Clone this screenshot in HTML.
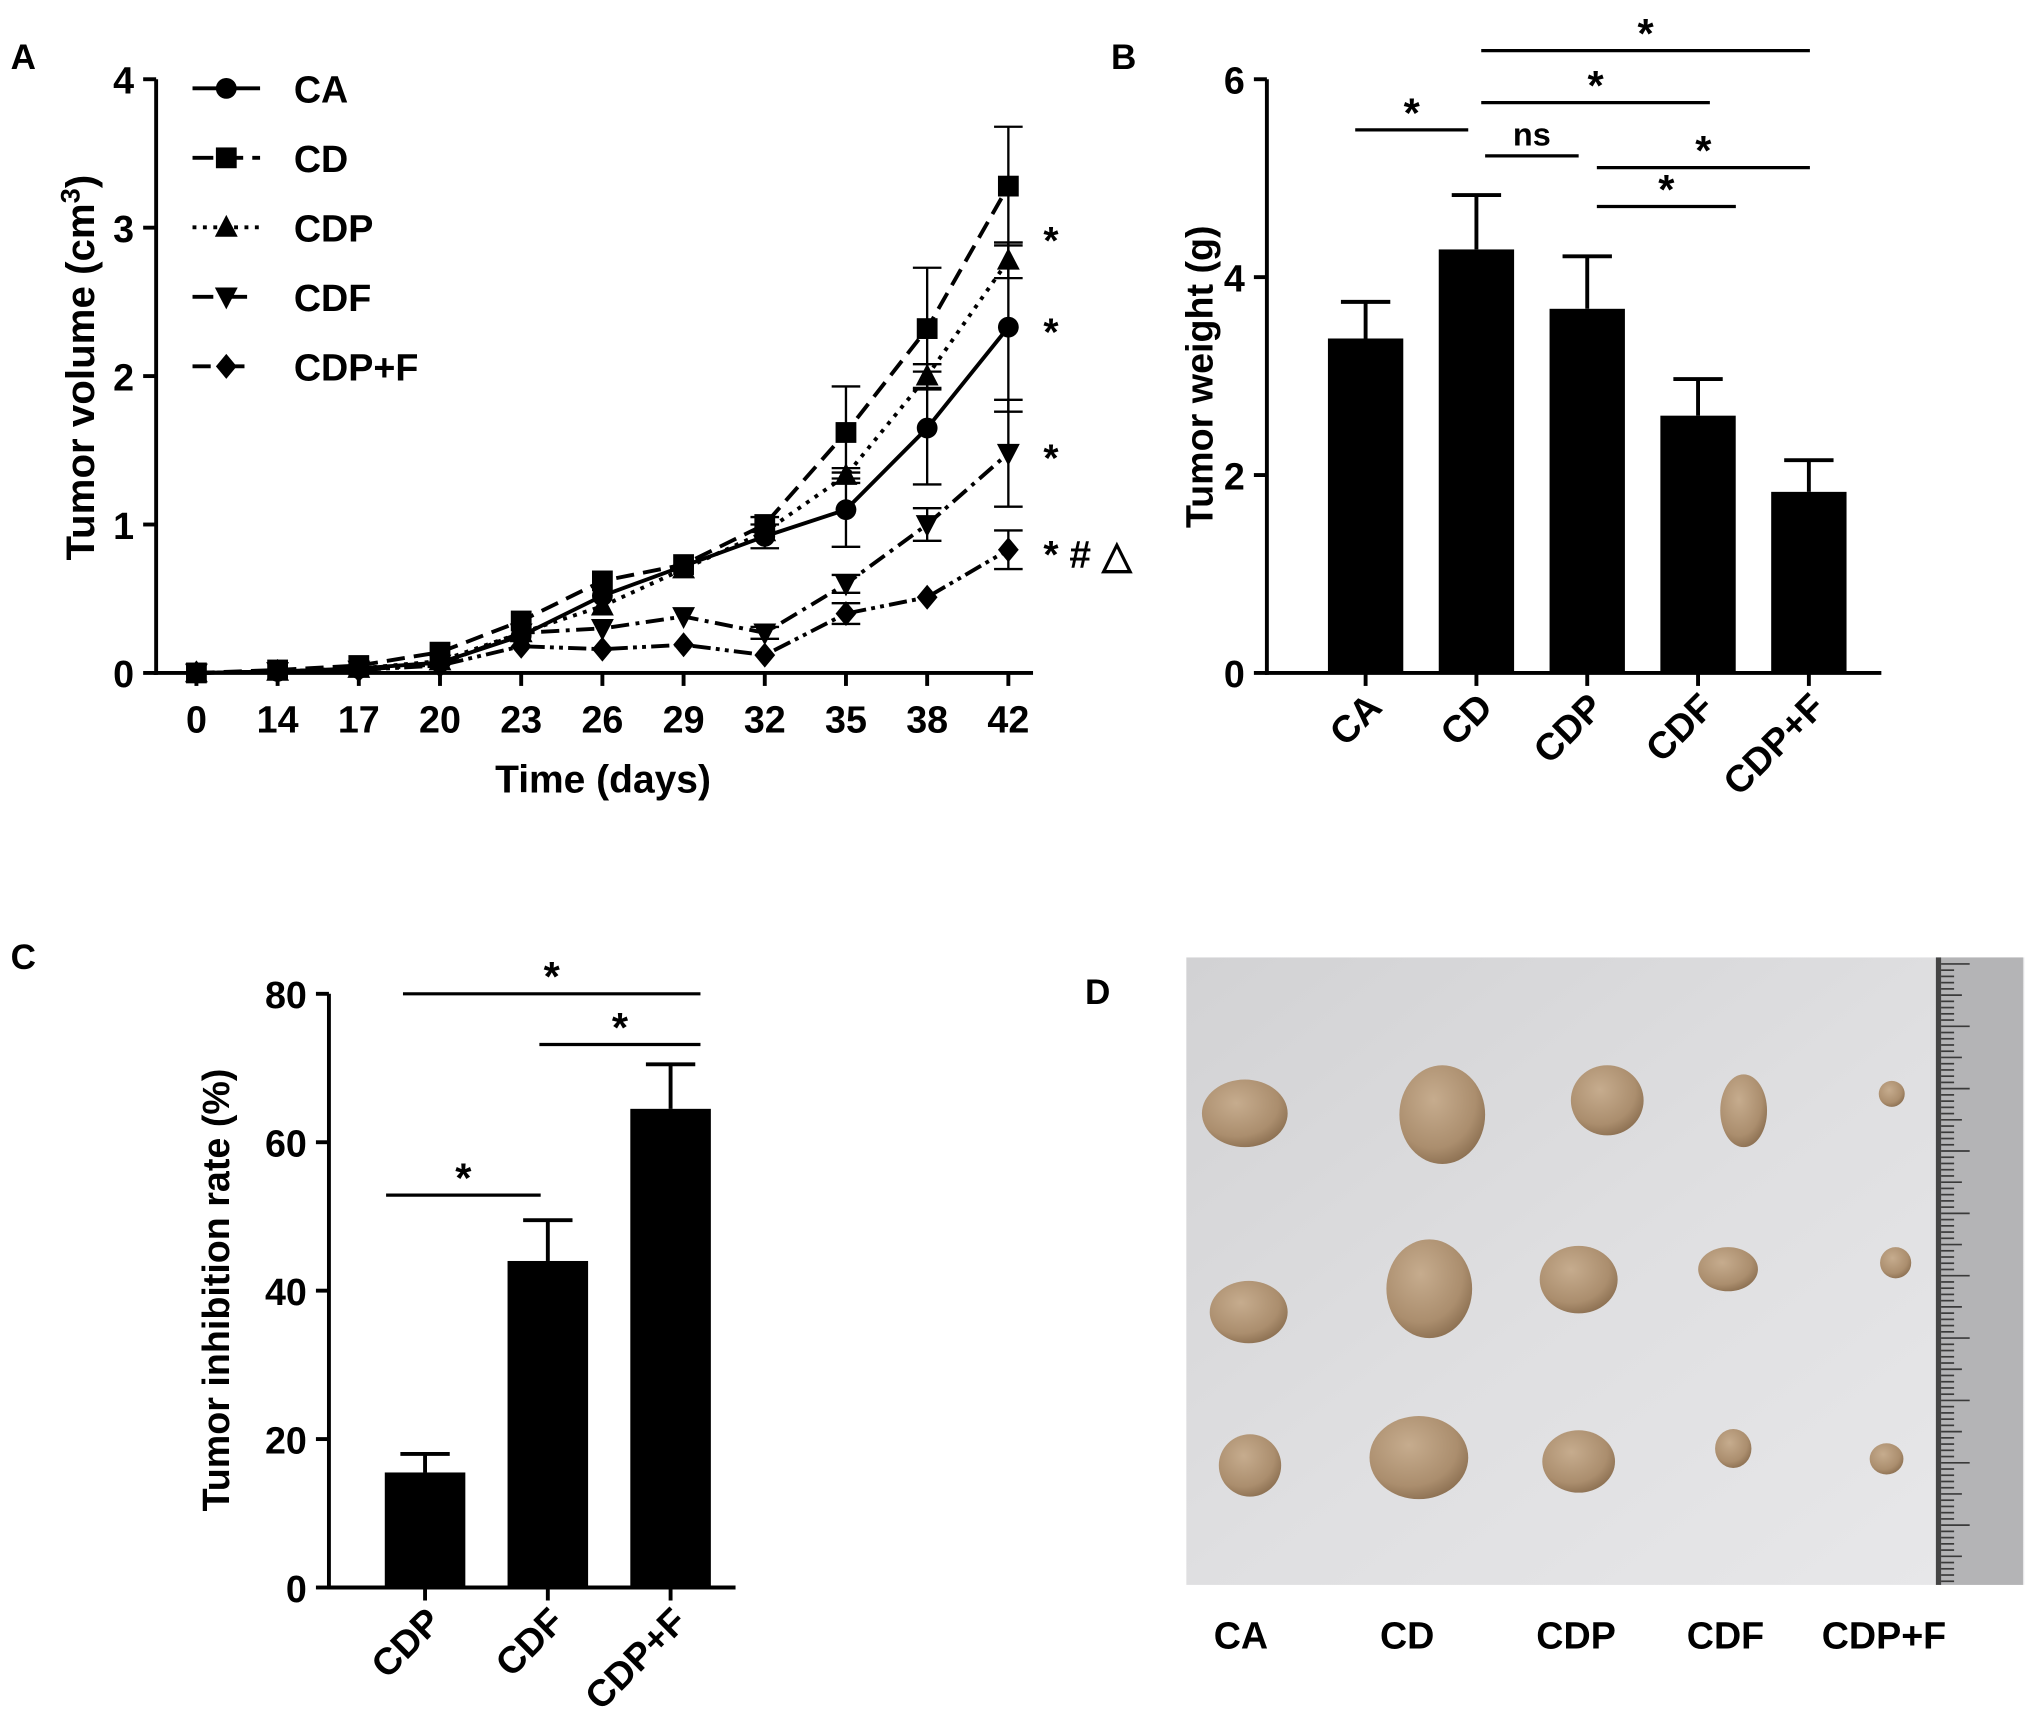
<!DOCTYPE html>
<html><head><meta charset="utf-8"><style>
html,body{margin:0;padding:0;background:#fff}
svg{display:block}
text{font-family:"Liberation Sans",Arial,sans-serif;font-weight:bold;fill:#000}
</style></head><body>
<svg id="fig" width="2031" height="1733" viewBox="0 0 1563 1334" xmlns="http://www.w3.org/2000/svg">
<defs>
<linearGradient id="bg" x1="0" y1="0" x2="1" y2="1"><stop offset="0" stop-color="#d2d2d4"/><stop offset="0.5" stop-color="#dfdfe1"/><stop offset="1" stop-color="#e8e8ea"/></linearGradient>
<radialGradient id="tum" cx="0.4" cy="0.35" r="0.7"><stop offset="0" stop-color="#c6ac8e"/><stop offset="0.7" stop-color="#ab8e6e"/><stop offset="1" stop-color="#8a6e50"/></radialGradient>
</defs>
<g id="panelA"></g>
<g id="panelB"></g>
<g id="panelC"></g>
<g id="panelD"></g>
</svg>
<script>
// ---- Panel A data ----
const aDays = ["0","14","17","20","23","26","29","32","35","38","42"];
const aYTicks = [0,1,2,3,4];
const aNames = ["CA","CD","CDP","CDF","CDP+F"];
const caVals = [0,0.01,0.03,0.07,0.25,0.52,0.72,0.92,1.1,1.65,2.33];
const cdVals = [0,0.02,0.05,0.14,0.35,0.62,0.73,1.0,1.62,2.32,3.28];
const cdpVals = [0,0.01,0.03,0.08,0.27,0.45,0.7,0.95,1.33,2.0,2.78];
const cdfVals = [0,0.01,0.02,0.06,0.27,0.3,0.38,0.27,0.6,1.0,1.48];
const cdpfVals = [0,0.01,0.02,0.05,0.18,0.16,0.19,0.12,0.4,0.51,0.83];
const caErr = [0,0,0,0,0,0,0,0.08,0.25,0.38,0.57];
const cdErr = [0,0,0,0,0,0,0,0.05,0.31,0.41,0.4];
const cdpErr = [0,0,0,0,0,0,0,0,0.05,0.08,0.12];
const cdfErr = [0,0,0,0,0,0,0,0.04,0.06,0.11,0.36];
const cdpfErr = [0,0,0,0,0,0,0,0,0.07,0,0.13];
const aSig = ["*","*","*","* # \u25B3"];
// ---- Panel B data ----
const bCats = ["CA","CD","CDP","CDF","CDP+F"];
const bVals = [3.38,4.28,3.68,2.6,1.83];
const bErr = [0.37,0.55,0.53,0.37,0.32];
const bYTicks = [0,2,4,6];
// ---- Panel C data ----
const cCats = ["CDP","CDF","CDP+F"];
const cVals = [15.5,44,64.5];
const cErr = [2.5,5.5,6];
const cYTicks = [0,20,40,60,80];

const NS="http://www.w3.org/2000/svg";
function mk(parent,tag,attrs,txt){const e=document.createElementNS(NS,tag);for(const k in attrs)e.setAttribute(k,attrs[k]);if(txt!==undefined)e.textContent=txt;parent.appendChild(e);return e;}

// ===== Panel A =====
(function(){
const g=document.getElementById('panelA');
const x0=151, dx=62.5, yb=518, yt=61, ymax=4;
const X=i=>x0+i*dx, Y=v=>yb-(yb-yt)*v/ymax;
let t=mk(g,'text',{x:8,y:53,'font-size':27},'A');


let ax=mk(g,'line',{x1:120,y1:yt,x2:120,y2:yb+1.5,stroke:'#000','stroke-width':3});

let axx=mk(g,'line',{x1:118,y1:yb,x2:795,y2:yb,stroke:'#000','stroke-width':3});

aYTicks.forEach(v=>{
 mk(g,'line',{x1:110,y1:Y(v),x2:120,y2:Y(v),stroke:'#000','stroke-width':3});
 let l=mk(g,'text',{x:103,y:Y(v)+11,'font-size':29,'text-anchor':'end'},String(v));
 
});
aDays.forEach((d,i)=>{
 mk(g,'line',{x1:X(i),y1:yb,x2:X(i),y2:yb+10,stroke:'#000','stroke-width':3});
 let l=mk(g,'text',{x:X(i),y:564,'font-size':29,'text-anchor':'middle'},d);
 
});
let xt=mk(g,'text',{x:464,y:610,'font-size':30,'text-anchor':'middle'},'Time (days)');

let yt2=mk(g,'text',{x:0,y:0,'font-size':31,'text-anchor':'middle',transform:'translate(72,283) rotate(-90)'});

yt2.innerHTML='Tumor volume (cm<tspan dy="-11" font-size="21">3</tspan><tspan dy="11">)</tspan>';
const series=[[caVals,caErr,'none','circle'],[cdVals,cdErr,'14 7','square'],[cdpVals,cdpErr,'3 5','tri'],[cdfVals,cdfErr,'14 5 3 5','tridown'],[cdpfVals,cdpfErr,'14 4 3 4 3 4','diamond']];
function marker(p,type,cx,cy,s){
 let e;
 if(type==='circle') e=mk(p,'circle',{cx:cx,cy:cy,r:s});
 else if(type==='square') e=mk(p,'rect',{x:cx-s,y:cy-s,width:2*s,height:2*s});
 else if(type==='tri') e=mk(p,'polygon',{points:`${cx},${cy-s*1.2} ${cx-s*1.1},${cy+s*0.9} ${cx+s*1.1},${cy+s*0.9}`});
 else if(type==='tridown') e=mk(p,'polygon',{points:`${cx},${cy+s*1.2} ${cx-s*1.1},${cy-s*0.9} ${cx+s*1.1},${cy-s*0.9}`});
 else e=mk(p,'polygon',{points:`${cx},${cy-s*1.2} ${cx-s},${cy} ${cx},${cy+s*1.2} ${cx+s},${cy}`});
 e.setAttribute('fill','#000');return e;
}
series.forEach((s,k)=>{
 const sg=mk(g,'g',{});
 
 
 const pts=s[0].map((v,i)=>X(i)+','+Y(v)).join(' ');
 mk(sg,'polyline',{points:pts,fill:'none',stroke:'#000','stroke-width':3,'stroke-dasharray':s[2]==='none'?'':s[2]});
 s[0].forEach((v,i)=>{
  const e=s[1][i];
  if(e>0){
   mk(sg,'line',{x1:X(i),y1:Y(v-e),x2:X(i),y2:Y(v+e),stroke:'#000','stroke-width':1.8});
   mk(sg,'line',{x1:X(i)-11,y1:Y(v+e),x2:X(i)+11,y2:Y(v+e),stroke:'#000','stroke-width':1.8});
   mk(sg,'line',{x1:X(i)-11,y1:Y(v-e),x2:X(i)+11,y2:Y(v-e),stroke:'#000','stroke-width':1.8});
  }
  const m=marker(sg,s[3],X(i),Y(v),8);
  
 });
 const ly=68+k*53.5;
 const lg=mk(g,'g',{});
 
 mk(lg,'line',{x1:148,y1:ly,x2:200,y2:ly,stroke:'#000','stroke-width':3,'stroke-dasharray':s[2]==='none'?'':(k===2?'3 5':(k===1?'16 7':(k===3?'16 10':'14 12')))});
 marker(lg,s[3],174,ly,8);
 mk(lg,'text',{x:226,y:ly+11,'font-size':29},aNames[k]);
});
[[cdpVals,0],[caVals,1],[cdfVals,2],[cdpfVals,3]].forEach(([arr,j])=>{
 const v=arr[arr.length-1];
 const st=mk(g,'text',{x:803,y:Y(v)+(j===0?-5:+14),'font-size':30,'font-weight':'normal'},aSig[j]);
 
});
})();

function barPanel(gid,cats,vals,errs,ticks,ymax,cfg){
 const g=document.getElementById(gid);
 const Y=v=>cfg.yb-(cfg.yb-cfg.yt)*v/ymax;
 const X=i=>cfg.x0+i*cfg.dx;
 let t=mk(g,'text',{x:cfg.lx,y:cfg.ly,'font-size':27},cfg.label);
 
 let ay=mk(g,'line',{x1:cfg.ax,y1:cfg.yt,x2:cfg.ax,y2:cfg.yb+1.5,stroke:'#000','stroke-width':3});
 
 let axx=mk(g,'line',{x1:cfg.ax-1.5,y1:cfg.yb,x2:cfg.xend,y2:cfg.yb,stroke:'#000','stroke-width':3});
 
 ticks.forEach(v=>{
  mk(g,'line',{x1:cfg.ax-10,y1:Y(v),x2:cfg.ax,y2:Y(v),stroke:'#000','stroke-width':3});
  let l=mk(g,'text',{x:cfg.ax-17,y:Y(v)+11,'font-size':29,'text-anchor':'end'},String(v));
  
 });
 let ti=mk(g,'text',{x:0,y:0,'font-size':29,'text-anchor':'middle',transform:`translate(${cfg.tx},${cfg.tyc}) rotate(-90)`},cfg.title);
 
 vals.forEach((v,i)=>{
  const b=mk(g,'rect',{x:X(i)-cfg.bw/2,y:Y(v),width:cfg.bw,height:cfg.yb-Y(v),fill:'#000'});
  
  
  const e=errs[i];
  mk(g,'line',{x1:X(i),y1:Y(v),x2:X(i),y2:Y(v+e),stroke:'#000','stroke-width':3});
  mk(g,'line',{x1:X(i)-19,y1:Y(v+e),x2:X(i)+19,y2:Y(v+e),stroke:'#000','stroke-width':3});
  mk(g,'line',{x1:X(i),y1:cfg.yb,x2:X(i),y2:cfg.yb+10,stroke:'#000','stroke-width':3});
  const l=mk(g,'text',{x:0,y:0,'font-size':29,'text-anchor':'end',transform:`translate(${X(i)+14},${cfg.yb+28}) rotate(-45)`},cats[i]);
  
 });
 cfg.sig.forEach(s=>{
  const sg=mk(g,'g',{});
  
  mk(sg,'line',{x1:s[0],y1:s[2],x2:s[1],y2:s[2],stroke:'#000','stroke-width':2.5});
  mk(sg,'text',{x:(s[0]+s[1])/2,y:s[2]-(s[3]==='ns'?8:2),'font-size':s[3]==='ns'?25:32,'font-weight':s[3]==='ns'?'normal':'bold','text-anchor':'middle'},s[3]);
 });
}
barPanel('panelB',bCats,bVals,bErr,bYTicks,6,{pfx:'b',label:'B',lx:855,ly:53,x0:1051,dx:85.3,bw:58,yb:518,yt:61,ax:975,xend:1448,tx:933,tyc:290,title:'Tumor weight (g)',
 sig:[[1043,1130,100,'*'],[1140,1393,39,'*'],[1140,1316,79,'*'],[1143,1215,120,'ns'],[1229,1393,129,'*'],[1229,1336,159,'*']]});
barPanel('panelC',cCats,cVals,cErr,cYTicks,80,{pfx:'c',label:'C',lx:8,ly:746,x0:327,dx:94.5,bw:62,yb:1222,yt:765,ax:253,xend:566,tx:176,tyc:993,title:'Tumor inhibition rate (%)',
 sig:[[310,539,765,'*'],[415,539,804,'*'],[297,416,920,'*']]});

// ===== Panel D =====
(function(){
const g=document.getElementById('panelD');
let t=mk(g,'text',{x:835,y:773,'font-size':27},'D');

let bg=mk(g,'rect',{x:913,y:737,width:645,height:483,fill:'url(#bg)'});

let r=mk(g,'rect',{x:1490,y:737,width:67,height:483,fill:'#b4b4b6'});

mk(g,'rect',{x:1490,y:737,width:4,height:483,fill:'#444'});
for(let y=742;y<1218;y+=4.8){const n=Math.round((y-742)/4.8);mk(g,'line',{x1:1494,y1:y,x2:1494+((n%10===0)?22:(n%5===0?16:10)),y2:y,stroke:'#3a3a3a','stroke-width':1.3});}
const tumors=[[958,857,33,26],[1110,858,33,38],[1237,847,28,27],[1342,855,18,28],[1456,842,10,10],
 [961,1010,30,24],[1100,992,33,38],[1215,985,30,26],[1330,977,23,17],[1459,972,12,12],
 [962,1128,24,24],[1092,1122,38,32],[1215,1125,28,24],[1334,1115,14,15],[1452,1123,13,12]];
tumors.forEach(tm=>{
 const e=mk(g,'ellipse',{cx:tm[0],cy:tm[1],rx:tm[2],ry:tm[3],fill:'url(#tum)'});
 
});
const labs=[["CA",955],["CD",1083],["CDP",1213],["CDF",1328],["CDP+F",1450]];
labs.forEach(l=>{
 const e=mk(g,'text',{x:l[1],y:1269,'font-size':29,'text-anchor':'middle'},l[0]);
 
});
})();
</script>
</body></html>
